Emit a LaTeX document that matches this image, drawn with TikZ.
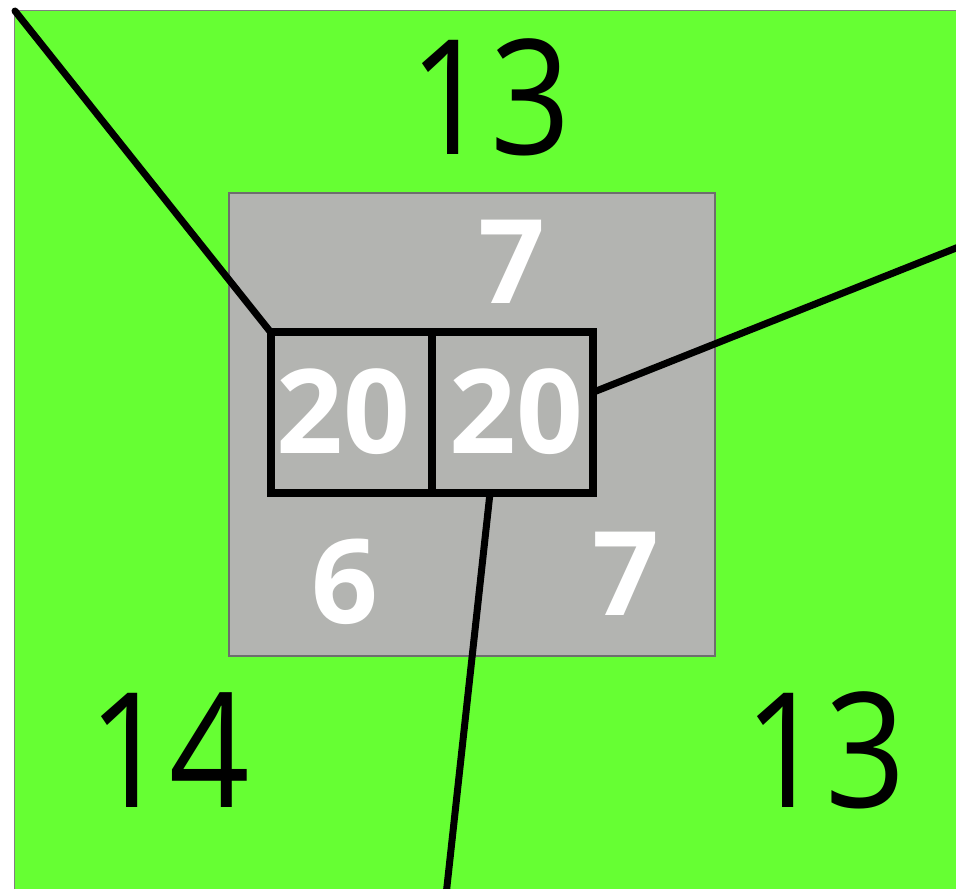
\documentclass[tikz,border=0pt]{standalone}
\usepackage{fontspec}
\setmainfont{Open Sans}
\newfontfamily\narrowsans[FakeStretch=0.88]{Open Sans}
\definecolor{fieldgreen}{HTML}{66FF33}
\definecolor{innergray}{HTML}{B3B4B1}
\definecolor{edgegray}{HTML}{6E6E6E}
\begin{document}
\begin{tikzpicture}[x=1pt,y=-1pt,
  cell/.style={draw=black,line width=8pt,minimum width=161pt,minimum height=161pt,inner sep=0pt,outer sep=0pt},
  bignum/.style={text=black,font=\narrowsans\fontsize{160}{160}\selectfont,inner sep=0pt},
  whitenum/.style={text=white,font=\fontsize{117}{117}\selectfont\bfseries,inner sep=0pt},
  link/.style={line width=7pt,black}]
\useasboundingbox (0,0) rectangle (956,889);
\clip (0,0) rectangle (956,889);
\fill[white] (0,0) rectangle (956,889);
% green field
\draw[fill=fieldgreen,draw=gray,line width=1.5pt] (14.5,10.5) rectangle (980,910);
% gray inner square
\draw[fill=innergray,draw=edgegray,line width=1.2pt] (229,193) rectangle (715,656);
% boxes
\node[cell] (L) at (351,412.5) {};
\node[cell] (R) at (512,412.5) {};
% free ends
\coordinate (TL) at (15,11);
\coordinate (RE) at (975,240.5);
\coordinate (BE) at (445.5,900);
% connectors
\draw[link,line cap=round] (TL) -- (L.north west);
\draw[link] ([yshift=20pt]R.east) -- (RE);
\draw[link] ([xshift=-22pt]R.south) -- (BE);
\draw[line width=8pt] (L.north west) rectangle (R.south east);
\draw[line width=8pt] (L.north east) -- (L.south east);
% labels
\node[bignum] (t13) at (490,97) {13};
\node[bignum] (l14) at (169,750) {14};
\node[bignum] (r13) at (825,750) {13};
\node[whitenum] (t7) at (512,262) {7};
\node[whitenum] (b6) at (345,582) {6};
\node[whitenum] (r7) at (626,574) {7};
\node[whitenum] (n20a) at (343.5,412) {20};
\node[whitenum] (n20b) at (516,412) {20};
\end{tikzpicture}
\end{document}
